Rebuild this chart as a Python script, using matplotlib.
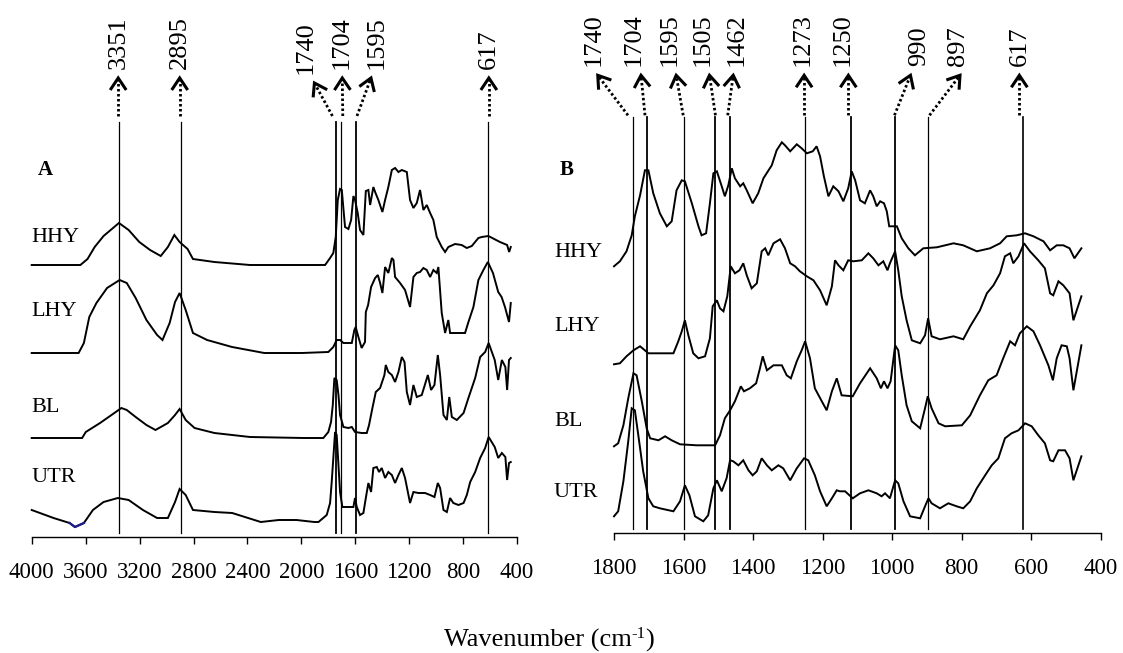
import matplotlib
matplotlib.use("Agg")
import matplotlib.pyplot as plt
import numpy as np

plt.rcParams["font.family"] = ["Liberation Serif", "DejaVu Serif"]

# ---- panel A: full range spectra (wavenumber, stacked absorbance in a.u.) ----
a_hhy_wn = [4000, 3639, 3586, 3533, 3467, 3353, 3281, 3202, 3122, 3043,
            2990, 2942, 2903, 2844, 2804, 2645, 2381, 1824, 1787, 1763,
            1745, 1730, 1713, 1700, 1688, 1676, 1651, 1631, 1614, 1602,
            1582, 1565, 1540, 1522, 1503, 1490, 1466, 1453, 1429, 1399,
            1379, 1355, 1329, 1305, 1280, 1255, 1218, 1194, 1169, 1144,
            1120, 1095, 1070, 1045, 1021, 996, 959, 934, 910, 860,
            811, 773, 736, 687, 662, 613, 527, 474, 459, 447]
a_hhy = [272, 272, 278, 290, 301, 314, 307, 295, 287, 281,
         290, 302, 295, 288, 278, 275, 272, 272, 279, 284,
         300, 337, 348, 347, 328, 310, 308, 317, 341, 337,
         324, 307, 302, 346, 347, 332, 350, 345, 337, 325,
         337, 350, 367, 369, 365, 367, 365, 337, 329, 334,
         347, 327, 332, 324, 317, 300, 290, 285, 290, 293,
         292, 289, 291, 299, 300, 301, 295, 292, 285, 290]

a_lhy_wn = [4000, 3652, 3613, 3573, 3520, 3441, 3348, 3295, 3229, 3149,
            3070, 3030, 2977, 2937, 2903, 2858, 2804, 2699, 2514, 2275,
            1996, 1800, 1763, 1738, 1713, 1688, 1626, 1607, 1597, 1577,
            1553, 1528, 1522, 1505, 1483, 1453, 1433, 1416, 1399, 1379,
            1355, 1329, 1317, 1305, 1268, 1231, 1194, 1169, 1144, 1120,
            1095, 1070, 1045, 1021, 996, 984, 959, 934, 910, 897,
            873, 786, 761, 724, 687, 650, 617, 579, 540, 515,
            490, 474, 460, 447]
a_lhy = [184, 184, 194, 220, 234, 249, 257, 254, 239, 217,
         202, 197, 214, 235, 244, 227, 204, 197, 190, 184,
         184, 185, 190, 197, 197, 194, 194, 207, 210, 200,
         189, 195, 225, 232, 250, 259, 262, 254, 244, 270,
         264, 279, 277, 260, 254, 247, 230, 260, 264, 265,
         269, 267, 260, 267, 264, 270, 224, 204, 217, 204,
         204, 204, 215, 230, 257, 267, 275, 264, 245, 240,
         230, 222, 215, 234]

a_bl_wn = [4000, 3626, 3599, 3493, 3387, 3335, 3295, 3229, 3149, 3082,
           2990, 2937, 2903, 2858, 2792, 2645, 2381, 1983, 1837, 1800,
           1780, 1767, 1755, 1738, 1725, 1713, 1688, 1651, 1626, 1602,
           1553, 1515, 1498, 1473, 1448, 1416, 1384, 1374, 1355, 1329,
           1305, 1280, 1255, 1235, 1218, 1194, 1169, 1144, 1107, 1062,
           1038, 1013, 988, 971, 946, 921, 903, 884, 847, 797,
           761, 711, 674, 637, 611, 566, 540, 513, 487, 474,
           460, 447]
a_bl = [99, 99, 105, 114, 124, 129, 127, 120, 112, 107,
        114, 122, 128, 117, 109, 104, 100, 99, 99, 105,
        115, 132, 159, 157, 142, 122, 110, 109, 110, 105,
        104, 104, 112, 129, 145, 149, 162, 172, 165, 162,
        155, 165, 180, 175, 145, 132, 152, 140, 142, 162,
        147, 152, 182, 162, 122, 117, 140, 120, 117, 124,
        139, 159, 180, 185, 194, 177, 157, 177, 170, 147,
        177, 179]

a_utr_wn = [4000, 3838, 3719, 3679, 3613, 3546, 3467, 3361, 3281, 3175,
            3070, 2990, 2937, 2903, 2858, 2804, 2645, 2513, 2301, 2168,
            2036, 1904, 1873, 1812, 1787, 1775, 1763, 1750, 1738, 1725,
            1713, 1696, 1651, 1614, 1602, 1589, 1565, 1540, 1522, 1503,
            1483, 1466, 1441, 1424, 1404, 1379, 1355, 1329, 1305, 1280,
            1255, 1231, 1194, 1169, 1132, 1083, 1045, 1013, 988, 971,
            946, 921, 897, 873, 835, 797, 773, 748, 711, 674,
            637, 611, 566, 540, 513, 487, 474, 460, 447]
a_utr = [27, 19, 14, 10, 14, 27, 35, 39, 37, 27,
         19, 19, 35, 48, 42, 27, 25, 24, 15, 17,
         17, 15, 15, 22, 34, 55, 79, 105, 102, 72,
         45, 30, 30, 30, 39, 30, 22, 24, 39, 54,
         45, 69, 70, 65, 69, 59, 65, 62, 54, 62,
         69, 59, 34, 45, 44, 44, 42, 40, 54, 49,
         27, 25, 39, 34, 32, 34, 42, 55, 65, 79,
         89, 100, 90, 79, 84, 80, 57, 74, 75]

# ---- panel B: fingerprint region ----
b_hhy_wn = [1800, 1783, 1764, 1749, 1740, 1725, 1711, 1701, 1687, 1668,
            1648, 1634, 1620, 1605, 1596, 1576, 1557, 1548, 1535, 1524,
            1514, 1504, 1490, 1481, 1471, 1461, 1452, 1437, 1428, 1418,
            1401, 1385, 1370, 1346, 1332, 1317, 1308, 1293, 1274, 1260,
            1245, 1228, 1217, 1207, 1196, 1183, 1169, 1154, 1140, 1126,
            1116, 1106, 1092, 1078, 1063, 1054, 1044, 1034, 1023, 1015,
            1008, 996, 986, 972, 953, 934, 910, 871, 823, 795,
            756, 718, 689, 670, 641, 617, 593, 564, 545, 526,
            507, 489, 475, 455]
b_hhy = [267, 272, 282, 298, 317, 338, 363, 363, 340, 320,
         307, 312, 343, 353, 352, 330, 307, 298, 300, 330,
         360, 362, 347, 337, 348, 365, 355, 347, 350, 343,
         330, 340, 355, 368, 383, 391, 388, 382, 389, 385,
         380, 382, 387, 377, 357, 337, 347, 342, 332, 345,
         362, 353, 333, 330, 343, 337, 327, 332, 330, 322,
         307, 307, 307, 295, 285, 278, 285, 286, 290, 288,
         282, 285, 290, 297, 298, 300, 297, 292, 283, 288,
         288, 285, 275, 285]

b_lhy_wn = [1800, 1783, 1764, 1744, 1725, 1701, 1629, 1615, 1605, 1596,
            1586, 1572, 1557, 1538, 1524, 1516, 1504, 1495, 1485, 1474,
            1464, 1452, 1439, 1428, 1418, 1404, 1389, 1375, 1365, 1356,
            1341, 1322, 1308, 1293, 1279, 1265, 1245, 1226, 1207, 1188,
            1173, 1164, 1154, 1140, 1126, 1111, 1087, 1068, 1054, 1039,
            1025, 1013, 1006, 991, 982, 972, 958, 943, 919, 905,
            896, 886, 862, 823, 795, 775, 747, 727, 708, 689,
            675, 660, 651, 636, 620, 603, 579, 560, 545, 536,
            521, 507, 489, 478, 455]
b_lhy = [169, 170, 177, 183, 187, 180, 180, 192, 202, 213,
         198, 180, 175, 177, 195, 227, 233, 225, 222, 237,
         267, 260, 263, 270, 258, 245, 250, 282, 285, 278,
         290, 294, 285, 270, 267, 262, 257, 253, 243, 228,
         247, 273, 268, 263, 273, 272, 273, 280, 275, 268,
         272, 263, 270, 282, 263, 237, 213, 193, 190, 198,
         215, 197, 194, 197, 194, 207, 223, 240, 248, 260,
         277, 280, 270, 277, 290, 282, 273, 265, 240, 238,
         252, 248, 240, 213, 237]

b_bl_wn = [1800, 1788, 1773, 1759, 1744, 1735, 1720, 1706, 1696, 1672,
           1653, 1634, 1610, 1562, 1509, 1495, 1481, 1466, 1452, 1435,
           1426, 1409, 1391, 1380, 1372, 1360, 1341, 1317, 1303, 1291,
           1274, 1260, 1250, 1236, 1222, 1202, 1188, 1173, 1159, 1145,
           1113, 1092, 1063, 1044, 1032, 1023, 1013, 1004, 991, 982,
           972, 958, 943, 919, 905, 897, 886, 866, 847, 799,
           775, 747, 723, 699, 680, 660, 646, 632, 612, 593,
           574, 550, 537, 526, 512, 497, 489, 478, 455]
b_bl = [87, 90, 108, 135, 160, 158, 132, 105, 95, 93,
        97, 93, 89, 88, 88, 98, 115, 123, 132, 147,
        142, 145, 150, 165, 177, 163, 168, 168, 158, 155,
        172, 183, 192, 175, 145, 132, 123, 142, 155, 138,
        137, 150, 165, 155, 145, 152, 145, 152, 188, 183,
        158, 128, 112, 105, 125, 137, 125, 110, 107, 108,
        118, 138, 153, 158, 175, 192, 188, 200, 207, 202,
        188, 168, 153, 175, 188, 187, 175, 143, 188]

b_utr_wn = [1800, 1788, 1773, 1759, 1749, 1740, 1730, 1716, 1701, 1687,
            1668, 1629, 1610, 1596, 1583, 1567, 1543, 1529, 1514, 1504,
            1490, 1476, 1466, 1457, 1442, 1428, 1413, 1401, 1389, 1375,
            1360, 1346, 1327, 1313, 1293, 1274, 1253, 1241, 1222, 1207,
            1188, 1173, 1159, 1150, 1135, 1113, 1092, 1068, 1044, 1030,
            1020, 1006, 991, 982, 967, 948, 919, 905, 895, 886,
            862, 838, 814, 795, 775, 756, 732, 713, 694, 675,
            656, 636, 617, 598, 579, 560, 545, 536, 521, 502,
            489, 478, 455]
b_utr = [17, 22, 52, 92, 125, 123, 98, 62, 35, 27,
         25, 22, 32, 48, 38, 17, 12, 18, 45, 53,
         42, 55, 73, 72, 68, 73, 63, 58, 62, 75,
         68, 63, 68, 65, 53, 65, 75, 73, 58, 42,
         27, 35, 43, 42, 42, 35, 40, 43, 40, 37,
         40, 35, 53, 50, 32, 17, 15, 27, 35, 30,
         25, 30, 27, 25, 32, 45, 58, 68, 75, 95,
         100, 103, 110, 107, 98, 90, 73, 72, 83, 83,
         75, 53, 77]

sample_names = ["HHY", "LHY", "BL", "UTR"]

# assigned bands: label text and the wavenumber the guide line is drawn at
a_band_labels = ["3351", "2895", "1740", "1704", "1595", "617"]
a_band_wn = [3351, 2895, 1740, 1704, 1595, 617]
b_band_labels = ["1740", "1704", "1595", "1505", "1462", "1273", "1250", "990", "897", "617"]
b_band_wn = [1746, 1705, 1598, 1508, 1467, 1250, 1117, 990, 895, 622]

a_ticks = np.arange(4000, 399, -400)
b_ticks = np.arange(1800, 399, -200)

# ---- layout (pixels) ----
W, H = 1123, 653
fig = plt.figure(figsize=(W / 100, H / 100), dpi=100)


def panel(left, right, base, xmax, xmin, ticks):
    ax = fig.add_axes([left / W, (H - base) / H, (right - left) / W, base / H])
    ax.set_xlim(xmax, xmin)
    ax.set_ylim(0, base)
    for s in ["top", "left", "right"]:
        ax.spines[s].set_visible(False)
    ax.spines["bottom"].set_linewidth(1.0)
    ax.set_yticks([])
    ax.set_xticks(ticks)
    ax.set_xticklabels([str(t) for t in ticks])
    ax.tick_params(axis="x", direction="out", length=5, width=1.0,
                   labelsize=16.5, pad=13)
    ax.patch.set_visible(False)
    return ax


ax_a = panel(31.7, 517.1, 537, 4000, 400, a_ticks)
ax_b = panel(614, 1100.5, 533.3, 1800, 400, b_ticks)
fig.canvas.draw()
renderer = fig.canvas.get_renderer()


def to_px(ax, x, y):
    return ax.transData.transform((x, y))


def to_data(ax, px, py):
    return ax.transData.inverted().transform((px, py))


def band_marker(ax, x, label, lw, dx_tail, dx_tip, dx_text, top, y_tail, y_tip, y_text):
    # guide line through the spectra
    ax.plot([x, x], [4, top], color="black", lw=lw, clip_on=False)
    # dotted pointer with an open head
    px0, _ = to_px(ax, x, 0)
    tail = np.array(to_px(ax, 0, y_tail)); tail[0] = px0 + dx_tail
    tip = np.array(to_px(ax, 0, y_tip)); tip[0] = px0 + dx_tip
    t0 = to_data(ax, *tail)
    t1 = to_data(ax, *tip)
    ax.plot([t0[0], t1[0]], [t0[1], t1[1]], color="black", lw=2.0,
            linestyle=(0, (0.9, 0.9)), clip_on=False)
    u = (tip - tail) / np.hypot(*(tip - tail))
    n = np.array([-u[1], u[0]])
    head_len, head_half = 12.0, 8.0
    p1 = tip - head_len * u + head_half * n
    p2 = tip - head_len * u - head_half * n
    pts = [to_data(ax, *p) for p in (p1, tip, p2)]
    ax.plot([p[0] for p in pts], [p[1] for p in pts], color="black", lw=2.2,
            solid_joinstyle="miter", solid_capstyle="butt", clip_on=False)
    txt = to_data(ax, px0 + dx_text, to_px(ax, 0, y_text)[1])
    ax.text(txt[0], txt[1], label, rotation=90, ha="center", va="bottom",
            fontsize=19)


# pointer geometry in pixels relative to each guide line: tail, tip, text
a_offsets = [(-1, -1, -1), (-1, -1, -1), (-4, -22, -31),
             (1.5, 1, 0), (1, 15, 21), (1, 1, 1)]
a_widths = [0.9, 0.9, 1.3, 0.9, 1.3, 0.9]
b_offsets = [(-4.8, -35, -39), (-2, -6, -13.5), (-1, -8, -15), (0, -6, -13),
             (-2, 3.5, 7), (-1, -1, -2), (-3, -3, -9), (-1, 15, 24),
             (1, 31.5, 30), (-4, -4, -3)]
b_widths = [0.9, 1.3, 0.9, 1.3, 1.3, 0.9, 1.3, 1.3, 0.9, 1.2]

for x, lab, lw, (d0, d1, d2) in zip(a_band_wn, a_band_labels, a_widths, a_offsets):
    y_tip = 454 if d1 < -10 else 459
    band_marker(ax_a, x, lab, lw, d0, d1, d2, 415, 421, y_tip, y_tip + 9)

for x, lab, lw, (d0, d1, d2) in zip(b_band_wn, b_band_labels, b_widths, b_offsets):
    band_marker(ax_b, x, lab, lw, d0, d1, d2, 416, 418, 458, 467)

# spectra
a_series = [(a_hhy_wn, a_hhy), (a_lhy_wn, a_lhy), (a_bl_wn, a_bl), (a_utr_wn, a_utr)]
b_series = [(b_hhy_wn, b_hhy), (b_lhy_wn, b_lhy), (b_bl_wn, b_bl), (b_utr_wn, b_utr)]
for ax, series in [(ax_a, a_series), (ax_b, b_series)]:
    for wn, ab in series:
        ax.plot(wn, ab, color="black", lw=1.4, clip_on=False,
                solid_joinstyle="miter")

# small instrument artefact in the UTR trace drawn in navy
wn = np.array(a_utr_wn)
seg = (wn <= 3719) & (wn >= 3613)
ax_a.plot(wn[seg], np.array(a_utr)[seg], color="#1c1c8f", lw=1.6, clip_on=False)

# sample labels
a_label_y = [300, 225, 130, 60]
b_label_y = [281, 207, 112, 41]
for name, y in zip(sample_names, a_label_y):
    ax_a.text(4000, y, name, fontsize=16, ha="left", va="center")
for name, y in zip(sample_names, b_label_y):
    bx = to_data(ax_b, 554, 0)[0]
    ax_b.text(bx, y, name, fontsize=16, ha="left", va="center")

ax_a.text(to_data(ax_a, 37.5, 0)[0], 367, "A", fontsize=15, fontweight="bold",
          ha="left", va="center")
ax_b.text(to_data(ax_b, 560, 0)[0], 363, "B", fontsize=15, fontweight="bold",
          ha="left", va="center")

# axis title built from pieces so the exponent keeps a plain hyphen
base_y = (H - 646.7) / H
parts = [("Wavenumber (cm", 19, 0), ("-1", 12, 9), (")", 19, 0)]
widths = []
for s, fs, _ in parts:
    t = fig.text(0, 0, s, fontsize=fs)
    widths.append(t.get_window_extent(renderer).width)
    t.remove()
x = 549 - sum(widths) / 2
for (s, fs, rise), w in zip(parts, widths):
    fig.text(x / W, base_y + rise / H, s, fontsize=fs, ha="left", va="baseline")
    x += w

fig.savefig("out.png", dpi=100)
